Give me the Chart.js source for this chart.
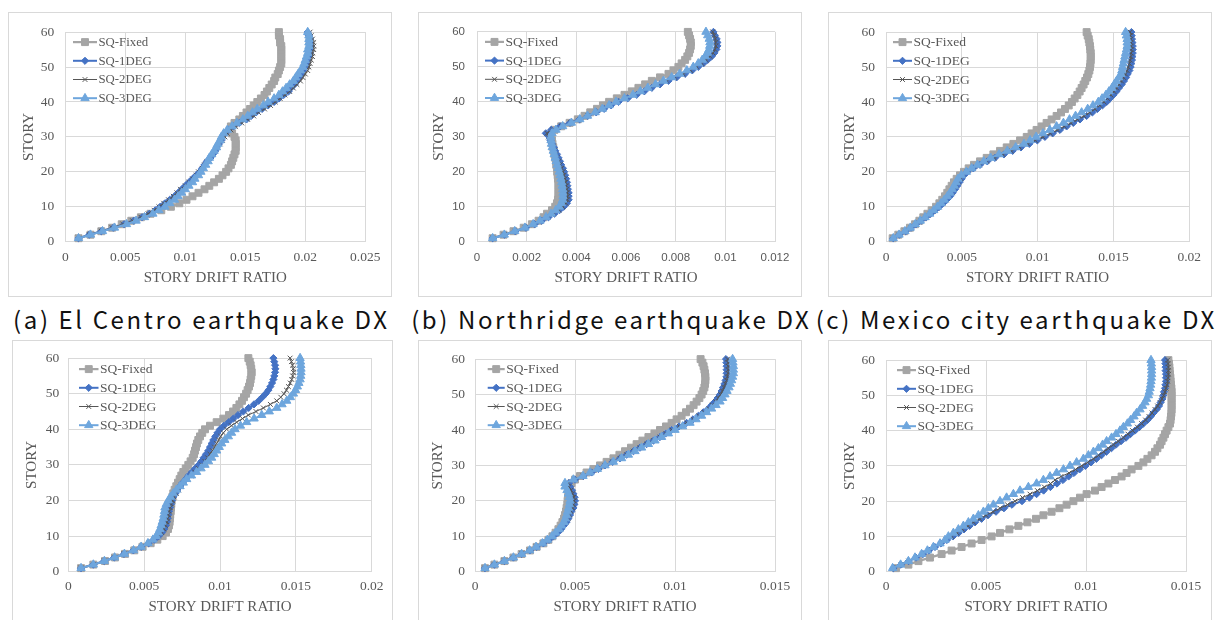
<!DOCTYPE html>
<html><head><meta charset="utf-8">
<script src="https://cdn.jsdelivr.net/npm/chart.js@4.4.1/dist/chart.umd.min.js"></script>
<style>
html,body{margin:0;padding:0;background:#fff}
body{width:1217px;height:620px;position:relative;overflow:hidden}
.panel{position:absolute;border:1px solid #d9d9d9;box-sizing:border-box;background:#fff}
.panel canvas{position:absolute;left:0;top:0}
.cap{position:absolute;width:500px;text-align:center;font-family:"Noto Sans CJK KR","Noto Sans";font-size:24px;line-height:24px;letter-spacing:2.6px;text-indent:2.6px;color:#111;white-space:nowrap}
</style></head><body>
<div class="cap" style="left:-50px;top:307px">(a) El Centro earthquake DX</div>
<div class="cap" style="left:360px;top:307px">(b) Northridge earthquake DX</div>
<div class="cap" style="left:765px;top:307px">(c) Mexico city earthquake DX</div>
<script>
// ---------- data ----------
const stories = [1,2,3,4,5,6,7,8,9,10,11,12,13,14,15,16,17,18,19,20,21,22,23,24,25,26,27,28,29,30,31,32,33,34,35,36,37,38,39,40,41,42,43,44,45,46,47,48,49,50,51,52,53,54,55,56,57,58,59,60];
const seriesLabels = ['SQ-Fixed','SQ-1DEG','SQ-2DEG','SQ-3DEG'];
const yTicks = [0,10,20,30,40,50,60];
const yLabels = ['0','10','20','30','40','50','60'];
const xTicks025 = [0,0.005,0.01,0.015,0.02,0.025];
const xLabels025 = ['0','0.005','0.01','0.015','0.02','0.025'];
const xTicks012 = [0,0.002,0.004,0.006,0.008,0.01,0.012];
const xLabels012 = ['0','0.002','0.004','0.006','0.008','0.01','0.012'];
const xTicks02 = [0,0.005,0.01,0.015,0.02];
const xLabels02 = ['0','0.005','0.01','0.015','0.02'];
const xTicks015 = [0,0.005,0.01,0.015];
const xLabels015 = ['0','0.005','0.01','0.015'];

// (a) El Centro DX (top-left)
const aFixed = [0.0011,0.0021,0.0030,0.0039,0.0047,0.0055,0.0063,0.0071,0.0080,0.0088,0.0095,0.0101,0.0106,0.0111,0.0116,0.0120,0.0124,0.0128,0.0131,0.0134,0.0136,0.0138,0.0139,0.0140,0.0141,0.0142,0.0142,0.0142,0.0142,0.0141,0.0139,0.0137,0.0138,0.0141,0.0145,0.0148,0.0151,0.0154,0.0157,0.0160,0.0163,0.0166,0.0168,0.0170,0.0172,0.0174,0.0175,0.0177,0.0178,0.0179,0.0180,0.0180,0.0180,0.0180,0.0180,0.0180,0.0179,0.0179,0.0178,0.0178];
const a1deg = [0.0011,0.0020,0.0030,0.0040,0.0049,0.0057,0.0064,0.0070,0.0075,0.0079,0.0083,0.0087,0.0091,0.0094,0.0097,0.0100,0.0103,0.0106,0.0109,0.0112,0.0114,0.0116,0.0118,0.0121,0.0123,0.0125,0.0126,0.0128,0.0130,0.0131,0.0133,0.0136,0.0140,0.0145,0.0151,0.0155,0.0159,0.0164,0.0169,0.0174,0.0178,0.0182,0.0186,0.0188,0.0191,0.0193,0.0195,0.0197,0.0198,0.0200,0.0201,0.0202,0.0203,0.0204,0.0204,0.0205,0.0204,0.0204,0.0203,0.0202];
const a2deg = [0.0011,0.0020,0.0030,0.0039,0.0048,0.0056,0.0063,0.0069,0.0074,0.0078,0.0082,0.0086,0.0090,0.0093,0.0096,0.0100,0.0103,0.0106,0.0109,0.0111,0.0114,0.0116,0.0118,0.0121,0.0123,0.0125,0.0127,0.0129,0.0131,0.0133,0.0135,0.0138,0.0142,0.0147,0.0152,0.0157,0.0161,0.0166,0.0171,0.0175,0.0179,0.0183,0.0187,0.0190,0.0193,0.0196,0.0198,0.0200,0.0202,0.0203,0.0204,0.0205,0.0206,0.0206,0.0207,0.0207,0.0207,0.0206,0.0205,0.0204];
const a3deg = [0.0011,0.0021,0.0031,0.0041,0.0051,0.0059,0.0066,0.0073,0.0078,0.0083,0.0087,0.0091,0.0094,0.0097,0.0100,0.0103,0.0106,0.0108,0.0111,0.0113,0.0115,0.0117,0.0119,0.0120,0.0122,0.0124,0.0126,0.0127,0.0129,0.0130,0.0132,0.0135,0.0139,0.0143,0.0148,0.0152,0.0156,0.0160,0.0165,0.0169,0.0174,0.0178,0.0181,0.0184,0.0187,0.0190,0.0192,0.0194,0.0196,0.0198,0.0199,0.0200,0.0201,0.0202,0.0202,0.0203,0.0203,0.0203,0.0203,0.0202];

// (b) Northridge DX (top-middle)
const bFixed = [0.00063,0.00107,0.00147,0.00188,0.00221,0.00248,0.00268,0.00282,0.00302,0.00315,0.00322,0.00326,0.00328,0.00328,0.00328,0.00328,0.00328,0.00326,0.00325,0.00323,0.00322,0.00319,0.00318,0.00315,0.00312,0.0031,0.00307,0.00304,0.00302,0.00299,0.00299,0.00312,0.00339,0.00373,0.00406,0.00433,0.00456,0.00483,0.00507,0.00532,0.00563,0.00594,0.00623,0.0065,0.00677,0.00704,0.00737,0.00771,0.00791,0.00811,0.00824,0.00838,0.00847,0.00854,0.00858,0.00861,0.00861,0.00858,0.00854,0.00849];
const b1deg = [0.00063,0.00111,0.00154,0.00197,0.00232,0.00261,0.00288,0.00312,0.00332,0.00349,0.00362,0.00369,0.00369,0.00369,0.00366,0.00364,0.00362,0.00359,0.00355,0.00351,0.00346,0.00339,0.00334,0.00328,0.00322,0.00315,0.0031,0.00302,0.00296,0.00291,0.00277,0.00299,0.00335,0.00375,0.00413,0.00446,0.0048,0.00512,0.0054,0.0057,0.00607,0.00643,0.00674,0.00704,0.00737,0.00771,0.00804,0.00838,0.00867,0.00891,0.00912,0.00929,0.00945,0.00956,0.00964,0.00968,0.00968,0.00965,0.00958,0.00952];
const b2deg = [0.00063,0.0011,0.00153,0.00195,0.0023,0.00258,0.00285,0.00309,0.0033,0.00346,0.00358,0.00364,0.00365,0.00364,0.00362,0.0036,0.00357,0.00354,0.0035,0.00346,0.00341,0.00335,0.0033,0.00323,0.00317,0.0031,0.00304,0.00298,0.00292,0.00287,0.00282,0.00305,0.0034,0.00378,0.00414,0.00446,0.00478,0.00508,0.00535,0.00563,0.00598,0.00633,0.00664,0.00695,0.00728,0.00762,0.00796,0.0083,0.0086,0.00884,0.00905,0.00923,0.00939,0.0095,0.00958,0.00962,0.00962,0.0096,0.00955,0.00949];
const b3deg = [0.00063,0.0011,0.00152,0.00193,0.00226,0.00254,0.00278,0.00299,0.00317,0.00331,0.0034,0.00345,0.00346,0.00346,0.00345,0.00343,0.00341,0.00338,0.00335,0.00331,0.00327,0.00323,0.00319,0.00315,0.00311,0.00307,0.00303,0.003,0.00298,0.00297,0.00302,0.00318,0.00345,0.0038,0.00414,0.00445,0.00476,0.00505,0.00532,0.0056,0.00594,0.00628,0.00658,0.00688,0.00719,0.00751,0.00784,0.00816,0.00845,0.00871,0.00891,0.00907,0.00919,0.00928,0.00934,0.00937,0.00938,0.00935,0.00929,0.00922];

// (c) Mexico city DX (top-right)
const cFixed = [0.00044,0.00081,0.00121,0.00158,0.00191,0.0022,0.00246,0.00273,0.00301,0.0033,0.00352,0.00371,0.00389,0.00404,0.00418,0.00433,0.00448,0.00466,0.00488,0.00514,0.00545,0.0058,0.0062,0.00664,0.00708,0.00752,0.00796,0.0084,0.00884,0.00928,0.0096,0.00993,0.01026,0.01059,0.01092,0.01125,0.01154,0.0118,0.01205,0.01226,0.01244,0.01262,0.01277,0.0129,0.01303,0.01314,0.01325,0.01334,0.01341,0.01345,0.01348,0.0135,0.0135,0.0135,0.01347,0.01345,0.01341,0.01337,0.0133,0.01323];
const c1deg = [0.00048,0.00088,0.0013,0.00165,0.00198,0.00231,0.00264,0.00295,0.00323,0.00352,0.00376,0.004,0.00422,0.0044,0.00455,0.0047,0.00484,0.00499,0.00514,0.00536,0.00576,0.0062,0.00668,0.00719,0.00778,0.00835,0.0089,0.00945,0.00998,0.01048,0.01099,0.01147,0.01191,0.01235,0.01279,0.01323,0.01361,0.01394,0.01427,0.01455,0.01477,0.01499,0.01519,0.01536,0.01554,0.01569,0.01583,0.01594,0.01605,0.01613,0.01618,0.01622,0.01625,0.01627,0.01627,0.01627,0.01625,0.01622,0.0162,0.01618];
const c2deg = [0.00048,0.00088,0.00129,0.00164,0.00197,0.0023,0.00263,0.00294,0.00322,0.0035,0.00374,0.00397,0.00418,0.00436,0.00451,0.00465,0.00479,0.00494,0.00511,0.00535,0.00574,0.00617,0.00664,0.00714,0.0077,0.00826,0.0088,0.00933,0.00984,0.01034,0.01083,0.0113,0.01175,0.01219,0.01262,0.01305,0.01343,0.01377,0.0141,0.01438,0.01461,0.01483,0.01503,0.01521,0.01538,0.01553,0.01567,0.01579,0.0159,0.01598,0.01605,0.0161,0.01614,0.01616,0.01617,0.01617,0.01616,0.01614,0.01612,0.0161];
const c3deg = [0.00048,0.00086,0.00125,0.0016,0.00193,0.00226,0.00258,0.00288,0.00315,0.0034,0.00363,0.00385,0.00405,0.00422,0.00437,0.0045,0.00462,0.00475,0.00497,0.0053,0.00565,0.00603,0.00645,0.0069,0.00745,0.008,0.00855,0.0091,0.0095,0.0099,0.01035,0.0108,0.01125,0.0117,0.0121,0.0125,0.0129,0.0133,0.01365,0.014,0.01425,0.0145,0.0147,0.0149,0.01505,0.0152,0.01535,0.0155,0.01555,0.0156,0.01565,0.0157,0.01575,0.0158,0.01585,0.0159,0.0159,0.0159,0.01585,0.0158];

// bottom-left
const dFixed = [0.00084,0.00165,0.00242,0.00308,0.00374,0.00435,0.0049,0.00543,0.00587,0.00622,0.00644,0.00657,0.00664,0.00668,0.0067,0.00672,0.00675,0.00677,0.00679,0.00681,0.00686,0.00692,0.00701,0.00712,0.00723,0.00734,0.00745,0.00758,0.00774,0.00791,0.00806,0.0082,0.00829,0.00835,0.00842,0.00848,0.00857,0.00868,0.00883,0.00901,0.00934,0.00978,0.01022,0.01059,0.01086,0.01108,0.01128,0.01145,0.01158,0.01172,0.01182,0.01191,0.01198,0.01202,0.01206,0.01209,0.01206,0.01202,0.01196,0.01187];
const d1deg = [0.00084,0.00165,0.00237,0.00303,0.00367,0.00429,0.00481,0.0053,0.00567,0.00596,0.00618,0.00633,0.00644,0.00651,0.00655,0.00659,0.00664,0.0067,0.00677,0.00684,0.00692,0.00706,0.00719,0.00736,0.00754,0.00774,0.00793,0.00815,0.00837,0.00859,0.00877,0.00892,0.00908,0.00923,0.00934,0.00945,0.00956,0.00969,0.00983,0.01,0.01026,0.01057,0.01088,0.01119,0.01154,0.01189,0.01224,0.01255,0.01279,0.01301,0.01319,0.01332,0.01343,0.01352,0.01358,0.01363,0.01365,0.01363,0.01358,0.01352];
const d2deg = [0.00084,0.00165,0.00237,0.00303,0.00367,0.00428,0.0048,0.00528,0.00565,0.00594,0.00616,0.00631,0.00642,0.0065,0.00655,0.0066,0.00666,0.00672,0.0068,0.00688,0.00698,0.00712,0.00728,0.00746,0.00766,0.00788,0.0081,0.00833,0.00857,0.00881,0.009,0.00918,0.00934,0.0095,0.00964,0.00978,0.00991,0.01005,0.01022,0.01044,0.01075,0.0111,0.01148,0.01187,0.01237,0.01286,0.01332,0.01374,0.01401,0.01422,0.01438,0.01451,0.01463,0.01473,0.01479,0.01484,0.01483,0.01478,0.01471,0.01462];
const d3deg = [0.00084,0.00165,0.00238,0.00305,0.0037,0.0043,0.0048,0.00525,0.00558,0.0058,0.00594,0.00604,0.00612,0.00619,0.00626,0.0063,0.00634,0.00637,0.00646,0.00659,0.00674,0.00692,0.00713,0.00736,0.00758,0.0078,0.00812,0.00846,0.00875,0.00901,0.00924,0.00945,0.00962,0.00978,0.00995,0.01011,0.01032,0.01055,0.01076,0.01099,0.01135,0.01176,0.01225,0.01275,0.01325,0.01374,0.01409,0.0144,0.01464,0.01484,0.01498,0.0151,0.0152,0.01528,0.01532,0.01534,0.01534,0.01533,0.01531,0.01528];

// bottom-middle
const eFixed = [0.0005,0.00097,0.00147,0.00192,0.00233,0.00275,0.00308,0.00342,0.00367,0.00387,0.00403,0.00417,0.00428,0.00437,0.00445,0.0045,0.00455,0.00458,0.00462,0.00463,0.00465,0.00467,0.0047,0.00475,0.00483,0.005,0.00525,0.00558,0.00592,0.00625,0.00658,0.00692,0.00722,0.0075,0.0078,0.00808,0.00837,0.00867,0.00897,0.00925,0.00955,0.00983,0.01008,0.01033,0.01055,0.01075,0.01093,0.01108,0.01122,0.01133,0.01141,0.01147,0.0115,0.01152,0.01152,0.0115,0.01147,0.01143,0.01137,0.01128];
const e1deg = [0.0005,0.00097,0.00147,0.00192,0.00233,0.00275,0.00308,0.00342,0.0037,0.00392,0.00413,0.0043,0.00444,0.00458,0.00467,0.00475,0.00482,0.00492,0.00497,0.005,0.00498,0.00492,0.00485,0.00475,0.0047,0.005,0.00542,0.00583,0.00617,0.0065,0.00688,0.00725,0.00758,0.00792,0.00825,0.00858,0.00892,0.00925,0.00953,0.00983,0.0102,0.01058,0.0109,0.01117,0.01142,0.01167,0.01183,0.012,0.01213,0.01225,0.01233,0.0124,0.01247,0.01253,0.01257,0.01258,0.01258,0.01258,0.01257,0.01255];
const e2deg = [0.0005,0.00097,0.00147,0.00192,0.00233,0.00274,0.00307,0.0034,0.00368,0.0039,0.0041,0.00427,0.00442,0.00455,0.00465,0.00473,0.0048,0.00488,0.00493,0.00496,0.00494,0.00488,0.0048,0.00468,0.00465,0.00497,0.0054,0.00582,0.00617,0.0065,0.00688,0.00725,0.00758,0.00792,0.00825,0.00858,0.00892,0.00925,0.00955,0.00985,0.01022,0.0106,0.01093,0.0112,0.01145,0.0117,0.01187,0.01204,0.01217,0.01228,0.01237,0.01245,0.01252,0.01258,0.01262,0.01265,0.01266,0.01266,0.01265,0.01263];
const e3deg = [0.0005,0.00097,0.00147,0.00192,0.00233,0.00273,0.00305,0.00337,0.00362,0.00385,0.00403,0.0042,0.00433,0.00445,0.00452,0.00458,0.00463,0.00468,0.00472,0.00475,0.00472,0.00467,0.0046,0.0045,0.0045,0.00492,0.0054,0.00575,0.00612,0.0065,0.00692,0.00733,0.00767,0.008,0.00833,0.00867,0.009,0.00933,0.00967,0.01,0.01038,0.01075,0.01105,0.01133,0.01158,0.01183,0.01205,0.01225,0.01238,0.0125,0.0126,0.0127,0.01277,0.01283,0.01288,0.01292,0.01292,0.01292,0.0129,0.01288];

// bottom-right
const fFixed = [0.0005,0.00112,0.00162,0.0022,0.00278,0.00328,0.00378,0.00428,0.00478,0.00528,0.0057,0.00617,0.00662,0.00707,0.0075,0.00787,0.00828,0.00867,0.00903,0.00937,0.0097,0.01003,0.01045,0.01078,0.01112,0.01145,0.01178,0.01203,0.01228,0.01262,0.01287,0.01307,0.01328,0.01345,0.01357,0.0137,0.01378,0.01387,0.01395,0.01403,0.01412,0.0142,0.01423,0.01425,0.01427,0.01428,0.01428,0.01428,0.01428,0.01428,0.01428,0.01427,0.01425,0.01423,0.01422,0.0142,0.01418,0.01417,0.01415,0.01412];
const f1deg = [0.00037,0.00075,0.00113,0.0015,0.00185,0.00215,0.00245,0.00275,0.00305,0.00335,0.00363,0.0039,0.00418,0.00445,0.00478,0.0051,0.0055,0.0059,0.0063,0.0068,0.00717,0.00753,0.00788,0.00822,0.00855,0.00885,0.00913,0.0094,0.00968,0.00997,0.01025,0.01052,0.01077,0.01102,0.01127,0.0115,0.01175,0.012,0.01222,0.01245,0.01267,0.01287,0.01307,0.01323,0.01337,0.01353,0.01365,0.01373,0.01382,0.01387,0.0139,0.01395,0.01397,0.014,0.014,0.014,0.01398,0.01398,0.01397,0.01395];
const f2deg = [0.00037,0.00075,0.00113,0.0015,0.00183,0.00213,0.00243,0.00272,0.003,0.00328,0.00355,0.00382,0.0041,0.00438,0.00468,0.005,0.00535,0.0057,0.00607,0.00645,0.00683,0.0072,0.00757,0.00792,0.00823,0.00845,0.00875,0.00915,0.00948,0.00978,0.01008,0.01037,0.01063,0.01088,0.01112,0.01137,0.01162,0.01187,0.0121,0.01233,0.01257,0.01278,0.01298,0.01315,0.0133,0.01345,0.01358,0.0137,0.0138,0.01388,0.01395,0.014,0.01405,0.01408,0.0141,0.01412,0.01412,0.01412,0.0141,0.01408];
const f3deg = [0.00033,0.00073,0.00112,0.00145,0.00178,0.00207,0.00237,0.0027,0.00295,0.00312,0.00337,0.00362,0.00387,0.00412,0.00437,0.00462,0.00487,0.00512,0.00537,0.0057,0.00603,0.00637,0.0067,0.00712,0.00753,0.00787,0.0082,0.00853,0.00887,0.0092,0.00953,0.00987,0.01012,0.01037,0.01062,0.01083,0.01103,0.01128,0.0115,0.0117,0.01187,0.01207,0.01223,0.0124,0.01253,0.0127,0.01283,0.01295,0.01303,0.01312,0.01316,0.0132,0.01323,0.01325,0.01327,0.01328,0.01328,0.01328,0.01327,0.01325];

// ---------- styles / layout ----------
const seriesStyle = [
  {color:'#a5a5a5', pointStyle:'rect', radius:4.9, lineWidth:2.25, bw:1},
  {color:'#4472c4', pointStyle:'rectRot', radius:3.6, lineWidth:2, bw:1},
  {color:'#555555', pointStyle:'crossRot', radius:3.4, lineWidth:1, bw:1},
  {color:'#6ea6dd', pointStyle:'triangle', radius:4.8, lineWidth:2, bw:1}
];
const SERIF = 'Liberation Serif';
const panels = [
  {box:[8,12,384,285], plot:[65.3,23.3,365.3,241.7], yTitleX:29.3, xTitleY:277.7, yTickPad:11, xTickPad:8,
   tickFont:{family:SERIF,size:13.5}, leg:{x0:73,len:24,y0:33.3,fs:12.8},
   ticks:xTicks025, labels:xLabels025, series:[aFixed,a1deg,a2deg,a3deg]},
  {box:[418,12,384,285], plot:[477,23.3,775,241.7], yTitleX:439.3, xTitleY:277.7, yTickPad:12, xTickPad:9,
   tickFont:{family:'Liberation Sans',size:11.5}, leg:{x0:485,len:19,y0:33.3,fs:13.5},
   ticks:xTicks012, labels:xLabels012, series:[bFixed,b1deg,b2deg,b3deg]},
  {box:[828,12,384,285], plot:[886,23.3,1189.3,241.7], yTitleX:850, xTitleY:277.7, yTickPad:11, xTickPad:8,
   tickFont:{family:SERIF,size:13.5}, leg:{x0:893,len:19,y0:33.3,fs:13.5},
   ticks:xTicks02, labels:xLabels02, series:[cFixed,c1deg,c2deg,c3deg]},
  {box:[12,340,381,285], plot:[68.3,352.3,371.7,571.7], yTitleX:31.7, xTitleY:606.7, yTickPad:9, xTickPad:7,
   tickFont:{family:SERIF,size:13.5}, leg:{x0:79,len:19.5,y0:363.3,fs:13.5},
   ticks:xTicks02, labels:xLabels02, series:[dFixed,d1deg,d2deg,d3deg]},
  {box:[418,340,384,285], plot:[475,352.3,775,571.7], yTitleX:438, xTitleY:606.7, yTickPad:10, xTickPad:7,
   tickFont:{family:SERIF,size:13.5}, leg:{x0:487.7,len:17,y0:362.3,fs:13.5},
   ticks:xTicks015, labels:xLabels015, series:[eFixed,e1deg,e2deg,e3deg]},
  {box:[828,340,384,285], plot:[886,352.3,1186,571.7], yTitleX:850, xTitleY:606.7, yTickPad:11, xTickPad:7,
   tickFont:{family:SERIF,size:13.5}, leg:{x0:897,len:19,y0:362.3,fs:13.5},
   ticks:xTicks015, labels:xLabels015, series:[fFixed,f1deg,f2deg,f3deg]}
];

function marker(ctx, st, x, y) {
  ctx.save();
  ctx.fillStyle = st.color; ctx.strokeStyle = st.color; ctx.lineWidth = st.bw;
  if (Chart.helpers && Chart.helpers.drawPoint) {
    Chart.helpers.drawPoint(ctx, {pointStyle:st.pointStyle, radius:st.radius, rotation:0, borderWidth:st.bw}, x, y);
  }
  ctx.restore();
}

const insideLegend = {
  id:'insideLegend',
  afterDatasetsDraw(chart, args, o) {
    const ctx = chart.ctx, ca = chart.chartArea;
    ctx.save();
    chart.data.datasets.forEach((ds, i) => {
      const st = seriesStyle[i];
      const x0 = ca.left + o.dx, y = ca.top + o.dy + i * 18.7;
      ctx.strokeStyle = st.color; ctx.lineWidth = st.lineWidth;
      ctx.beginPath(); ctx.moveTo(x0, y); ctx.lineTo(x0 + o.len, y); ctx.stroke();
      marker(ctx, st, x0 + o.len / 2, y);
      ctx.fillStyle = '#595959';
      ctx.font = o.fs + 'px "' + SERIF + '"';
      ctx.textAlign = 'left'; ctx.textBaseline = 'middle';
      ctx.fillText(ds.label, x0 + o.len + 1.5, y + 0.5);
    });
    ctx.restore();
  }
};

panels.forEach(p => {
  const wrap = document.createElement('div');
  wrap.className = 'panel';
  wrap.style.left = p.box[0] + 'px'; wrap.style.top = p.box[1] + 'px';
  wrap.style.width = p.box[2] + 'px'; wrap.style.height = p.box[3] + 'px';
  const cw = p.box[2] - 2, ch = p.box[3] - 2;
  const cv = document.createElement('canvas');
  cv.width = cw; cv.height = ch; cv.style.width = cw + 'px'; cv.style.height = ch + 'px';
  wrap.appendChild(cv); document.body.appendChild(wrap);
  const ox = p.box[0] + 1, oy = p.box[1] + 1;
  const L = p.plot[0] - ox, T = p.plot[1] - oy, R = p.plot[2] - ox, B = p.plot[3] - oy;
  const pb = 1;
  const xH = ch - pb - B;
  const titleFont = {family:SERIF, size:15};
  new Chart(cv, {
    type:'scatter',
    data:{datasets: p.series.map((vals, i) => {
      const st = seriesStyle[i];
      return {
        label: seriesLabels[i],
        data: stories.map((s, k) => ({x: vals[k], y: s})),
        showLine:true, tension:0, clip:false,
        borderColor:st.color, backgroundColor:st.color, borderWidth:st.lineWidth,
        pointStyle:st.pointStyle, pointRadius:st.radius, pointHoverRadius:st.radius,
        pointBackgroundColor:st.color, pointBorderColor:st.color, pointBorderWidth:st.bw,
        order: 4 - i
      };
    })},
    options:{
      responsive:false, animation:false, devicePixelRatio:1, events:[],
      layout:{padding:{left:0, top:T, right:cw - R, bottom:pb}},
      plugins:{legend:{display:false}, tooltip:{enabled:false},
        insideLegend:{dx:p.leg.x0 - p.plot[0], dy:p.leg.y0 - p.plot[1], len:p.leg.len, fs:p.leg.fs}},
      scales:{
        x:{type:'linear', position:'bottom', min:0, max:p.ticks[p.ticks.length - 1],
          afterBuildTicks:s => { s.ticks = p.ticks.map(v => ({value:v})); },
          afterFit:s => { s.height = xH; },
          grid:{color:'#d9d9d9', lineWidth:1, drawTicks:false},
          border:{display:false},
          ticks:{padding:p.xTickPad, maxRotation:0, minRotation:0, autoSkip:false, font:p.tickFont, color:'#595959',
            callback:(v, i) => p.labels[i]},
          title:{display:true, text:'STORY DRIFT RATIO', font:titleFont, color:'#595959',
            padding:{top:0, bottom:(ch - pb) - (p.xTitleY - oy) - 9}}
        },
        y:{type:'linear', position:'left', min:0, max:60,
          afterBuildTicks:s => { s.ticks = yTicks.map(v => ({value:v})); },
          afterFit:s => { s.width = L; },
          grid:{color:'#d9d9d9', lineWidth:1, drawTicks:false},
          border:{display:false},
          ticks:{padding:p.yTickPad, autoSkip:false, font:p.tickFont, color:'#595959',
            callback:(v, i) => yLabels[i]},
          title:{display:true, text:'STORY', font:titleFont, color:'#595959',
            padding:{top:(p.yTitleX - ox) - 9, bottom:0}}
        }
      }
    },
    plugins:[insideLegend]
  });
});
</script>
</body></html>
